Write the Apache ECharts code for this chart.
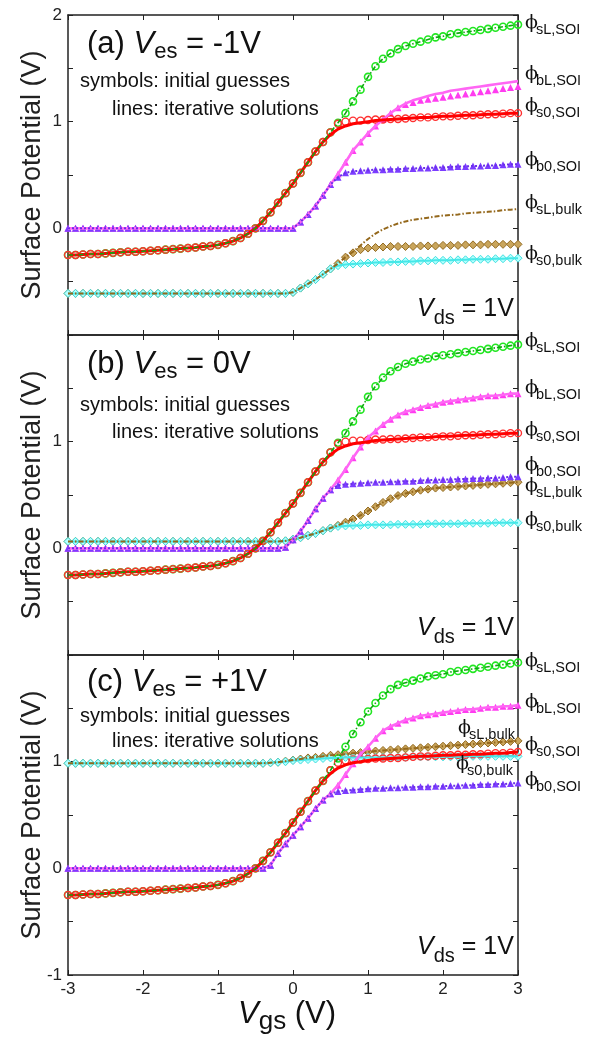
<!DOCTYPE html>
<html>
<head>
<meta charset="utf-8">
<script src="https://cdn.jsdelivr.net/npm/echarts@6/dist/echarts.min.js"></script>
<style>
html, body { margin: 0; padding: 0; background: #fff; }
#chart { width: 601px; height: 1038px; }
</style>
</head>
<body>
<div id="chart"></div>
<script>
// gate voltage sweep (V)
var vgs = [-3.0,-2.9,-2.8,-2.7,-2.6,-2.5,-2.4,-2.3,-2.2,-2.1,
  -2.0,-1.9,-1.8,-1.7,-1.6,-1.5,-1.4,-1.3,-1.2,-1.1,
  -1.0,-0.9,-0.8,-0.7,-0.6,-0.5,-0.4,-0.3,-0.2,-0.1,
  0.0,0.1,0.2,0.3,0.4,0.5,0.6,0.7,0.8,0.9,
  1.0,1.1,1.2,1.3,1.4,1.5,1.6,1.7,1.8,1.9,
  2.0,2.1,2.2,2.3,2.4,2.5,2.6,2.7,2.8,2.9,3.0];

// ---- panel (a) Ves = -1V ----
var sLSOI_a = [-0.25,-0.25,-0.245,-0.24,-0.24,-0.235,-0.23,-0.225,-0.22,-0.22,
  -0.215,-0.21,-0.205,-0.20,-0.195,-0.19,-0.185,-0.18,-0.17,-0.165,
  -0.155,-0.14,-0.12,-0.09,-0.05,0.00,0.07,0.15,0.24,0.33,
  0.42,0.52,0.62,0.72,0.81,0.90,0.99,1.08,1.19,1.30,
  1.42,1.52,1.59,1.64,1.68,1.71,1.73,1.75,1.77,1.79,
  1.80,1.82,1.83,1.84,1.85,1.86,1.87,1.88,1.89,1.90,1.91];
var s0SOI_a = [-0.25,-0.25,-0.245,-0.24,-0.24,-0.235,-0.23,-0.225,-0.22,-0.22,
  -0.215,-0.21,-0.205,-0.20,-0.195,-0.19,-0.185,-0.18,-0.17,-0.165,
  -0.155,-0.14,-0.12,-0.09,-0.05,0.00,0.07,0.15,0.24,0.33,
  0.42,0.52,0.62,0.72,0.81,0.88,0.93,0.96,0.98,0.99,
  1.00,1.01,1.015,1.02,1.025,1.03,1.035,1.04,1.04,1.045,
  1.05,1.05,1.055,1.06,1.06,1.065,1.07,1.07,1.075,1.08,1.08];
var s0SOIg_a = [-0.25,-0.25,-0.245,-0.24,-0.24,-0.235,-0.23,-0.225,-0.22,-0.22,
  -0.215,-0.21,-0.205,-0.20,-0.195,-0.19,-0.185,-0.18,-0.17,-0.165,
  -0.155,-0.14,-0.12,-0.09,-0.05,0.00,0.07,0.15,0.24,0.33,
  0.42,0.52,0.62,0.72,0.81,0.90,0.98,1.00,1.01,1.01,
  1.015,1.02,1.02,1.025,1.025,1.03,1.035,1.04,1.04,1.045,
  1.05,1.05,1.055,1.06,1.06,1.065,1.07,1.07,1.075,1.08,1.08];
var bLSOI_a = [0,0,0,0,0,0,0,0,0,0, 0,0,0,0,0,0,0,0,0,0, 0,0,0,0,0,0,0,0,0,0,
  0.00,0.06,0.13,0.21,0.31,0.41,0.51,0.62,0.73,0.81,
  0.89,0.96,1.02,1.08,1.13,1.17,1.20,1.22,1.24,1.26,
  1.27,1.29,1.30,1.31,1.32,1.33,1.34,1.35,1.36,1.37,1.38];
var bLSOIg_a = [0,0,0,0,0,0,0,0,0,0, 0,0,0,0,0,0,0,0,0,0, 0,0,0,0,0,0,0,0,0,0,
  0.00,0.06,0.13,0.21,0.31,0.41,0.51,0.62,0.73,0.81,
  0.89,0.96,1.02,1.08,1.13,1.16,1.18,1.20,1.21,1.22,
  1.23,1.24,1.25,1.26,1.27,1.28,1.29,1.30,1.31,1.32,1.33];
var b0SOI_a = [0,0,0,0,0,0,0,0,0,0, 0,0,0,0,0,0,0,0,0,0, 0,0,0,0,0,0,0,0,0,0,
  0.00,0.06,0.13,0.21,0.31,0.41,0.48,0.52,0.535,0.54,
  0.545,0.55,0.55,0.555,0.555,0.56,0.56,0.565,0.565,0.57,
  0.57,0.575,0.58,0.58,0.585,0.585,0.59,0.59,0.595,0.60,0.60];
var sLbulk_a = [-0.61,-0.61,-0.61,-0.61,-0.61,-0.61,-0.61,-0.61,-0.61,-0.61,
  -0.61,-0.61,-0.61,-0.61,-0.61,-0.61,-0.61,-0.61,-0.61,-0.61,
  -0.61,-0.61,-0.61,-0.61,-0.61,-0.61,-0.61,-0.61,-0.61,-0.61,
  -0.60,-0.56,-0.52,-0.48,-0.43,-0.38,-0.33,-0.27,-0.22,-0.16,
  -0.10,-0.05,-0.01,0.02,0.045,0.065,0.08,0.09,0.10,0.11,
  0.12,0.125,0.13,0.14,0.145,0.15,0.155,0.16,0.17,0.175,0.18];
var sLbulkg_a = [-0.61,-0.61,-0.61,-0.61,-0.61,-0.61,-0.61,-0.61,-0.61,-0.61,
  -0.61,-0.61,-0.61,-0.61,-0.61,-0.61,-0.61,-0.61,-0.61,-0.61,
  -0.61,-0.61,-0.61,-0.61,-0.61,-0.61,-0.61,-0.61,-0.61,-0.61,
  -0.60,-0.56,-0.52,-0.48,-0.43,-0.38,-0.33,-0.27,-0.23,-0.20,
  -0.185,-0.18,-0.175,-0.17,-0.17,-0.17,-0.17,-0.165,-0.165,-0.165,
  -0.16,-0.16,-0.16,-0.155,-0.155,-0.155,-0.15,-0.15,-0.15,-0.15,-0.15];
var s0bulk_a = [-0.61,-0.61,-0.61,-0.61,-0.61,-0.61,-0.61,-0.61,-0.61,-0.61,
  -0.61,-0.61,-0.61,-0.61,-0.61,-0.61,-0.61,-0.61,-0.61,-0.61,
  -0.61,-0.61,-0.61,-0.61,-0.61,-0.61,-0.61,-0.61,-0.61,-0.61,
  -0.60,-0.56,-0.52,-0.48,-0.43,-0.38,-0.35,-0.34,-0.335,-0.33,
  -0.325,-0.32,-0.32,-0.315,-0.315,-0.31,-0.31,-0.305,-0.305,-0.30,
  -0.30,-0.30,-0.295,-0.295,-0.29,-0.29,-0.29,-0.285,-0.285,-0.28,-0.28];

// ---- panel (b) Ves = 0V ----
var sLSOI_b = [-0.25,-0.25,-0.245,-0.24,-0.24,-0.235,-0.23,-0.225,-0.22,-0.22,
  -0.215,-0.21,-0.205,-0.20,-0.195,-0.19,-0.185,-0.18,-0.17,-0.165,
  -0.155,-0.14,-0.12,-0.09,-0.05,0.00,0.07,0.15,0.24,0.33,
  0.42,0.52,0.62,0.72,0.81,0.90,0.99,1.08,1.19,1.30,
  1.42,1.52,1.60,1.66,1.70,1.73,1.75,1.77,1.78,1.80,
  1.81,1.82,1.83,1.84,1.85,1.86,1.87,1.88,1.89,1.90,1.91];
var s0SOI_b = s0SOI_a.slice();
var s0SOIg_b = s0SOIg_a.slice();
var bLSOI_b = [0,0,0,0,0,0,0,0,0,0, 0,0,0,0,0,0,0,0,0,0, 0,0,0,0,0,0,0,0,0,0.01,
  0.08,0.16,0.26,0.37,0.47,0.55,0.64,0.74,0.85,0.95,
  1.04,1.10,1.16,1.21,1.25,1.28,1.30,1.32,1.34,1.35,
  1.37,1.38,1.39,1.40,1.41,1.42,1.43,1.43,1.44,1.45,1.45];
var b0SOI_b = [0,0,0,0,0,0,0,0,0,0, 0,0,0,0,0,0,0,0,0,0, 0,0,0,0,0,0,0,0,0,0.01,
  0.08,0.16,0.26,0.37,0.47,0.55,0.59,0.60,0.605,0.61,
  0.615,0.62,0.62,0.625,0.625,0.63,0.63,0.635,0.64,0.64,
  0.645,0.645,0.65,0.65,0.655,0.655,0.66,0.66,0.665,0.67,0.67];
var sLbulk_b = [0.065,0.065,0.065,0.065,0.065,0.065,0.065,0.065,0.065,0.065,
  0.065,0.065,0.065,0.065,0.065,0.065,0.065,0.065,0.065,0.065,
  0.065,0.065,0.065,0.065,0.065,0.065,0.065,0.065,0.065,0.07,
  0.085,0.10,0.12,0.14,0.165,0.19,0.215,0.245,0.275,0.31,
  0.35,0.39,0.43,0.465,0.495,0.515,0.53,0.545,0.555,0.565,
  0.57,0.575,0.58,0.585,0.59,0.595,0.60,0.605,0.61,0.615,0.62];
var s0bulk_b = [0.065,0.065,0.065,0.065,0.065,0.065,0.065,0.065,0.065,0.065,
  0.065,0.065,0.065,0.065,0.065,0.065,0.065,0.065,0.065,0.065,
  0.065,0.065,0.065,0.065,0.065,0.065,0.065,0.065,0.065,0.07,
  0.085,0.10,0.12,0.14,0.165,0.19,0.205,0.21,0.215,0.215,
  0.22,0.22,0.22,0.22,0.225,0.225,0.225,0.225,0.23,0.23,
  0.23,0.23,0.23,0.235,0.235,0.235,0.235,0.24,0.24,0.24,0.24];

// ---- panel (c) Ves = +1V ----
var sLSOI_c = [-0.25,-0.25,-0.245,-0.24,-0.24,-0.235,-0.23,-0.225,-0.22,-0.22,
  -0.215,-0.21,-0.205,-0.20,-0.195,-0.19,-0.185,-0.18,-0.17,-0.165,
  -0.155,-0.14,-0.12,-0.09,-0.05,0.00,0.07,0.15,0.24,0.33,
  0.43,0.53,0.63,0.73,0.82,0.92,1.03,1.14,1.26,1.37,
  1.47,1.55,1.62,1.68,1.72,1.74,1.76,1.78,1.80,1.81,
  1.82,1.84,1.85,1.86,1.87,1.88,1.89,1.90,1.91,1.92,1.93];
var s0SOI_c = [-0.25,-0.25,-0.245,-0.24,-0.24,-0.235,-0.23,-0.225,-0.22,-0.22,
  -0.215,-0.21,-0.205,-0.20,-0.195,-0.19,-0.185,-0.18,-0.17,-0.165,
  -0.155,-0.14,-0.12,-0.09,-0.05,0.00,0.07,0.15,0.24,0.33,
  0.43,0.53,0.63,0.73,0.82,0.89,0.94,0.97,0.99,1.00,
  1.01,1.02,1.025,1.03,1.035,1.04,1.045,1.05,1.05,1.055,
  1.06,1.06,1.065,1.065,1.07,1.07,1.075,1.08,1.08,1.085,1.09];
var s0SOIg_c = [-0.25,-0.25,-0.245,-0.24,-0.24,-0.235,-0.23,-0.225,-0.22,-0.22,
  -0.215,-0.21,-0.205,-0.20,-0.195,-0.19,-0.185,-0.18,-0.17,-0.165,
  -0.155,-0.14,-0.12,-0.09,-0.05,0.00,0.07,0.15,0.24,0.33,
  0.43,0.53,0.63,0.73,0.82,0.92,0.99,1.01,1.02,1.02,
  1.025,1.03,1.03,1.035,1.035,1.04,1.045,1.05,1.05,1.055,
  1.06,1.06,1.065,1.065,1.07,1.07,1.075,1.08,1.08,1.085,1.09];
var bLSOI_c = [0,0,0,0,0,0,0,0,0,0, 0,0,0,0,0,0,0,0,0,0, 0,0,0,0,0,0,0,0.03,0.14,0.23,
  0.31,0.39,0.47,0.56,0.64,0.70,0.78,0.88,0.98,1.07,
  1.14,1.22,1.29,1.33,1.36,1.39,1.41,1.43,1.44,1.45,
  1.46,1.47,1.48,1.49,1.49,1.50,1.51,1.51,1.52,1.52,1.53];
var b0SOI_c = [0,0,0,0,0,0,0,0,0,0, 0,0,0,0,0,0,0,0,0,0, 0,0,0,0,0,0,0,0.03,0.14,0.23,
  0.31,0.39,0.47,0.56,0.64,0.70,0.72,0.73,0.735,0.74,
  0.745,0.75,0.75,0.755,0.755,0.76,0.76,0.765,0.765,0.77,
  0.77,0.775,0.775,0.78,0.78,0.785,0.785,0.79,0.79,0.795,0.80];
var sLbulk_c = [0.985,0.985,0.985,0.985,0.985,0.985,0.985,0.985,0.985,0.985,
  0.985,0.985,0.985,0.985,0.985,0.985,0.985,0.985,0.985,0.985,
  0.985,0.985,0.985,0.985,0.985,0.985,0.985,0.99,0.995,1.005,
  1.015,1.025,1.035,1.04,1.05,1.06,1.065,1.07,1.08,1.085,
  1.09,1.10,1.105,1.11,1.115,1.12,1.125,1.13,1.135,1.14,
  1.145,1.15,1.155,1.16,1.165,1.17,1.175,1.18,1.185,1.19,1.195];
var s0bulk_c = [0.985,0.985,0.985,0.985,0.985,0.985,0.985,0.985,0.985,0.985,
  0.985,0.985,0.985,0.985,0.985,0.985,0.985,0.985,0.985,0.985,
  0.985,0.985,0.985,0.985,0.985,0.985,0.985,0.99,0.995,1.00,
  1.01,1.015,1.02,1.025,1.03,1.035,1.035,1.04,1.04,1.04,
  1.04,1.04,1.04,1.04,1.04,1.04,1.045,1.045,1.045,1.045,
  1.045,1.045,1.045,1.05,1.05,1.05,1.05,1.05,1.05,1.05,1.05];

// tick labels shown on each panel's left axis
var yLabels_a = [0, 1, 2];
var yLabels_b = [0, 1];
var yLabels_c = [-1, 0, 1];
var xLabels = [-3, -2, -1, 0, 1, 2, 3];

var panels = [
  {sLSOI: sLSOI_a, s0SOI: s0SOI_a, s0SOIg: s0SOIg_a, bLSOI: bLSOI_a, bLSOIg: bLSOIg_a,
   b0SOI: b0SOI_a, sLbulk: sLbulk_a, sLbulkg: sLbulkg_a, s0bulk: s0bulk_a, yLabels: yLabels_a},
  {sLSOI: sLSOI_b, s0SOI: s0SOI_b, s0SOIg: s0SOIg_b, bLSOI: bLSOI_b, bLSOIg: bLSOI_b,
   b0SOI: b0SOI_b, sLbulk: sLbulk_b, sLbulkg: sLbulk_b, s0bulk: s0bulk_b, yLabels: yLabels_b},
  {sLSOI: sLSOI_c, s0SOI: s0SOI_c, s0SOIg: s0SOIg_c, bLSOI: bLSOI_c, bLSOIg: bLSOI_c,
   b0SOI: b0SOI_c, sLbulk: sLbulk_c, sLbulkg: sLbulk_c, s0bulk: s0bulk_c, yLabels: yLabels_c}
];

var FONT = '"Liberation Sans", Arial, Helvetica, sans-serif';
var AX = '#222';
var gridTops = [15, 335, 655];

function pts(ys) {
  return ys.map(function (y, i) { return [vgs[i], y]; });
}

function line(k, ys, color, width, type) {
  return {type: 'line', xAxisIndex: 2 * k, yAxisIndex: 2 * k, data: pts(ys),
    showSymbol: false, symbol: 'none', silent: true,
    lineStyle: {color: color, width: width, type: type || 'solid'}};
}

function marks(k, ys, symbol, size, fill, border, bw) {
  return {type: 'scatter', xAxisIndex: 2 * k, yAxisIndex: 2 * k, data: pts(ys),
    symbol: symbol, symbolSize: size, silent: true,
    itemStyle: {color: fill, borderColor: border, borderWidth: bw, opacity: 1}};
}

var grid = [], xAxis = [], yAxis = [], series = [];
panels.forEach(function (p, k) {
  grid.push({left: 68, right: 83, top: gridTops[k], height: 320});
  [0, 1].forEach(function (side) {
    xAxis.push({
      gridIndex: k, type: 'value', min: -3, max: 3, interval: 1,
      position: side ? 'top' : 'bottom',
      axisLine: {onZero: false, lineStyle: {color: AX, width: 1.5}},
      axisTick: {inside: true, length: 5, lineStyle: {color: AX, width: 1}},
      splitLine: {show: false},
      axisLabel: {show: k === 2 && side === 0, margin: 6, fontSize: 17, fontFamily: FONT, color: '#222',
        formatter: function (v) { return xLabels.indexOf(v) >= 0 ? String(v) : ''; }}
    });
    yAxis.push({
      gridIndex: k, type: 'value', min: -1, max: 2, interval: 0.5,
      position: side ? 'right' : 'left',
      name: side ? '' : 'Surface Potential (V)',
      nameLocation: 'middle', nameGap: 22, nameRotate: 90, nameMoveOverlap: false,
      nameTextStyle: {fontSize: 27, fontFamily: FONT, color: '#222'},
      axisLine: {onZero: false, lineStyle: {color: AX, width: 1.5}},
      axisTick: {inside: true, length: 5, lineStyle: {color: AX, width: 1}},
      splitLine: {show: false},
      axisLabel: {show: side === 0, margin: 6, fontSize: 17, fontFamily: FONT, color: '#222',
        formatter: function (v) { return p.yLabels.indexOf(v) >= 0 ? String(v) : ''; }}
    });
  });

  // draw order: bulk curves, back-gate curves, front surface curves
  series.push(marks(k, p.sLbulkg, 'diamond', 8, '#c9a55c', '#946c22', 1));
  series.push(line(k, p.s0bulk, '#45e8e8', 2));
  series.push(marks(k, p.s0bulk, 'diamond', 8, '#b5ffff', '#3fe0e0', 1));
  series.push(line(k, p.sLbulk, '#94681c', 2, [5, 2, 1.5, 2]));
  series.push(line(k, p.bLSOI, '#ff66f4', 2.6));
  series.push(marks(k, p.bLSOIg, 'triangle', 7, '#ff3cf0', '#ff3cf0', 0));
  series.push(marks(k, p.b0SOI, 'triangle', 7, '#7b3cff', '#7b3cff', 0));
  series.push(line(k, p.b0SOI, '#6a2ee8', 2, [2, 2]));
  series.push(line(k, p.s0SOI, '#ff0000', 3));
  series.push(marks(k, p.sLSOI, 'circle', 7, 'rgba(0,0,0,0)', '#22e622', 1.6));
  series.push(marks(k, p.s0SOIg, 'circle', 7, 'rgba(0,0,0,0)', '#ff3030', 1.4));
  series.push(line(k, p.sLSOI, '#10a810', 1.6, [5, 2, 1.5, 2]));
});

// ---- text annotations ----
function txt(x, y, text, rich) {
  return {type: 'text', x: x, y: y, z: 100, silent: true,
    style: {text: text, rich: rich, fill: '#111', align: 'left', verticalAlign: 'top'}};
}
var titleRich = {
  n: {fontSize: 31, fontFamily: FONT, lineHeight: 34, verticalAlign: 'top', color: '#111'},
  v: {fontSize: 31, fontFamily: FONT, fontStyle: 'italic', lineHeight: 34, verticalAlign: 'top', color: '#111'},
  s: {fontSize: 22, fontFamily: FONT, lineHeight: 26, padding: [12, 0, 0, 0], verticalAlign: 'top', color: '#111'}
};
var vdsRich = {
  n: {fontSize: 25, fontFamily: FONT, lineHeight: 28, verticalAlign: 'top', color: '#111'},
  v: {fontSize: 25, fontFamily: FONT, fontStyle: 'italic', lineHeight: 28, verticalAlign: 'top', color: '#111'},
  s: {fontSize: 20, fontFamily: FONT, lineHeight: 22, padding: [11, 0, 0, 0], verticalAlign: 'top', color: '#111'}
};
var plainRich = {t: {fontSize: 20, fontFamily: FONT, color: '#111'}};

var graphic = [];
var titles = [['(a) ', ' = -1V', 29], ['(b) ', ' = 0V', 349], ['(c) ', ' = +1V', 667]];
titles.forEach(function (t) {
  graphic.push(txt(87, t[2], '{n|' + t[0] + '}{v|V}{s|es}{n|' + t[1] + '}', titleRich));
});
[[81, 109], [405, 432], [716, 741]].forEach(function (yy) {
  var a = txt(80, yy[0], '{t|symbols: initial guesses}', plainRich);
  a.style.verticalAlign = 'middle';
  var b = txt(112, yy[1], '{t|lines: iterative solutions}', plainRich);
  b.style.verticalAlign = 'middle';
  graphic.push(a, b);
});
[297, 616, 935].forEach(function (y) {
  graphic.push(txt(417, y, '{v|V}{s|ds}{n| = 1V}', vdsRich));
});

function phi(x, y, sub) {
  graphic.push({type: 'text', x: x, y: y, z: 100, silent: true,
    style: {text: '\u03D5', font: '19px "DejaVu Serif", serif', fill: '#111', align: 'left', verticalAlign: 'middle'}});
  graphic.push({type: 'text', x: x + 11, y: y + 7, z: 100, silent: true,
    style: {text: sub, font: '14.5px ' + FONT, fill: '#111', align: 'left', verticalAlign: 'middle'}});
}
[['sL,SOI', 23], ['bL,SOI', 74], ['s0,SOI', 106], ['b0,SOI', 160], ['sL,bulk', 203], ['s0,bulk', 254],
 ['sL,SOI', 341], ['bL,SOI', 388], ['s0,SOI', 430], ['b0,SOI', 465], ['sL,bulk', 486], ['s0,bulk', 520],
 ['sL,SOI', 661], ['bL,SOI', 702], ['s0,SOI', 745], ['b0,SOI', 780]].forEach(function (l) {
  phi(525, l[1], l[0]);
});
phi(458, 728, 'sL,bulk');
phi(456, 764, 's0,bulk');

graphic.push(txt(238, 999, '{v|V}{s|gs}{n| (V)}', {
  n: {fontSize: 31, fontFamily: FONT, lineHeight: 34, verticalAlign: 'top', color: '#111'},
  v: {fontSize: 31, fontFamily: FONT, fontStyle: 'italic', lineHeight: 34, verticalAlign: 'top', color: '#111'},
  s: {fontSize: 26, fontFamily: FONT, lineHeight: 30, padding: [10, 0, 0, 0], verticalAlign: 'top', color: '#111'}
}));

var chart = echarts.init(document.getElementById('chart'), null, {renderer: 'canvas'});
chart.setOption({
  backgroundColor: '#fff',
  animation: false,
  grid: grid,
  xAxis: xAxis,
  yAxis: yAxis,
  series: series,
  graphic: graphic
});
</script>
</body>
</html>
